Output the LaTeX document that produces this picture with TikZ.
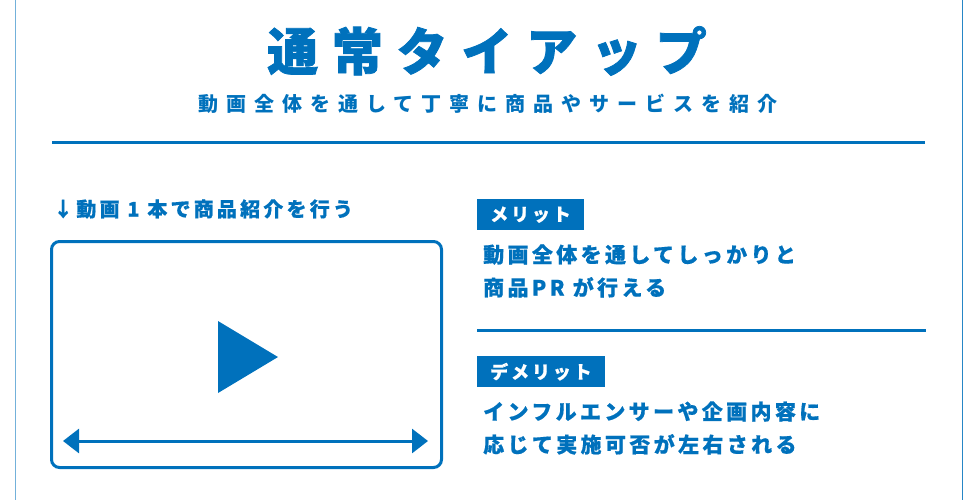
\documentclass[tikz,border=0pt]{standalone}
\usepackage{fontspec}
\setmainfont{Noto Sans CJK JP}
\newfontfamily\titlefont{Noto Sans CJK JP}[LetterSpace=27, BoldFeatures={FakeBold=1.5}]
\newfontfamily\subfont{Noto Sans CJK JP}[LetterSpace=40]
\newfontfamily\bodyfont{Noto Sans CJK JP}[LetterSpace=16, BoldFeatures={FakeBold=0.6}]
\usetikzlibrary{positioning, arrows.meta}
\definecolor{tieblue}{HTML}{0071BC}

\begin{document}
\begin{tikzpicture}[x=1pt,y=-1pt,
    title/.style={text=tieblue, inner sep=0pt,
      font=\titlefont\bfseries\fontsize{51}{51}\selectfont},
    subtitle/.style={text=tieblue, inner sep=0pt,
      font=\subfont\bfseries\fontsize{20}{20}\selectfont},
    body/.style={text=tieblue, inner sep=0pt, anchor=west, align=left,
      font=\bodyfont\bfseries\fontsize{21}{33}\selectfont},
    tag/.style={fill=tieblue, text=white, anchor=north west,
      minimum height=31pt, inner xsep=13pt, inner ysep=0pt,
      font=\bodyfont\bfseries\fontsize{18}{18}\selectfont},
    rule/.style={draw=tieblue, line width=3pt},
    >={Triangle[length=16pt, width=24pt]}]
  \useasboundingbox (0,0) rectangle (980,500);
  % side frame
  \draw[tieblue!55, line width=1pt] (15,0) -- (15,500);
  \draw[tieblue!85, line width=1pt] (962,0) -- (962,500);
  % heading
  \node[title] (head) at (487,51) {通常タイアップ};
  \node[subtitle] (sub) at (488,104) {動画全体を通して丁寧に商品やサービスを紹介};
  \coordinate (ruleL) at (52,143);
  \coordinate (ruleR) at (925,143);
  \draw[rule] (ruleL) -- (ruleR);
  % video
  \node[body, font=\bodyfont\bfseries\fontsize{20}{20}\selectfont] (cap) at (53,209) {↓動画\ 1\ 本で商品紹介を行う};
  \node[draw=tieblue, line width=3pt, rounded corners=8pt, anchor=north west,
    minimum width=390pt, minimum height=226pt] (screen) at (50,240) {};
  \fill[tieblue] (218,321) -- (278,357) -- (218,393) -- cycle;
  \coordinate (seekL) at (63,441);
  \coordinate (seekR) at (428,441);
  \draw[<->, draw=tieblue, fill=tieblue, line width=3pt] (seekL) -- (seekR);
  % merit
  \node[tag] (merit) at (477,199) {メリット};
  \node[body] (meritText) at (483,271) {動画全体を通してしっかりと\\商品PR が行える};
  \coordinate (midL) at (477,330);
  \coordinate (midR) at (926,330);
  \draw[rule] (midL) -- (midR);
  % demerit
  \node[tag] (demerit) at (477,356) {デメリット};
  \node[body] (demeritText) at (483,428) {インフルエンサーや企画内容に\\応じて実施可否が左右される};
\end{tikzpicture}
\end{document}
